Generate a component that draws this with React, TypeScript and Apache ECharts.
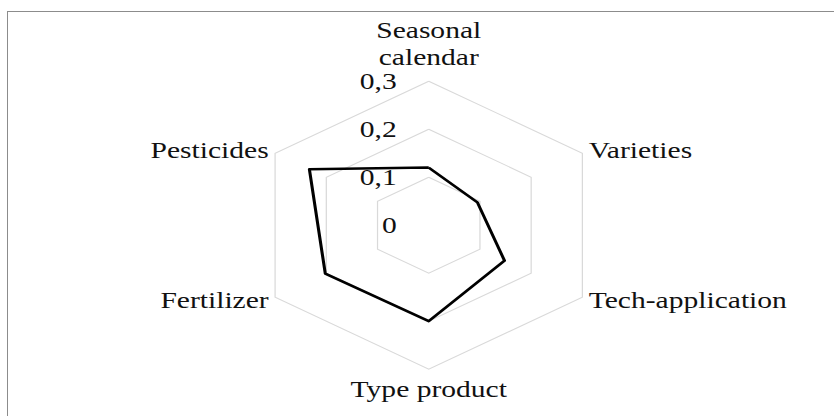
import { useEffect, useRef } from 'react';
import * as echarts from 'echarts';

// Indicators in ECharts drawing order (top, then counter-clockwise)
const categories = ['Seasonal\ncalendar', 'Pesticides', 'Fertilizer', 'Type product', 'Tech-application', 'Varieties'];
const values = [0.12, 0.233, 0.202, 0.2, 0.148, 0.095];
const tickValues = [0, 0.1, 0.2, 0.3];
const tickLabels = ['0', '0,1', '0,2', '0,3'];
const axisMin = 0;
const axisMax = 0.3;

const STRETCH = 1.232;
const FONT = 'Liberation Serif';

export default function App() {
  const ref = useRef<HTMLDivElement>(null);
  useEffect(() => {
    const chart = echarts.init(ref.current!, null, { renderer: 'svg' });
    const fmt = (v: number) => {
      const i = tickValues.findIndex((t) => Math.abs(t - v) < 1e-9);
      return i >= 0 ? tickLabels[i] : String(v).replace('.', ',');
    };
    const nameFmt = (name: string) => {
      if (name.indexOf('\n') < 0) return name;
      const parts = name.split('\n');
      return parts.map((s, i) => `{${i === parts.length - 1 ? 'b' : 'a'}|${s}}`).join('\n');
    };
    const txt = { color: '#111', fontFamily: FONT, fontSize: 24 };
    chart.setOption({
      animation: false,
      radar: {
        center: [348, 225.2],
        radius: 144,
        startAngle: 90,
        splitNumber: tickValues.length - 1,
        shape: 'polygon',
        indicator: categories.map((name, i) => {
          const o: any = { name, min: axisMin, max: axisMax };
          if (i === 0) o.axisLabel = { show: true };
          return o;
        }),
        axisName: {
          ...txt,
          lineHeight: 28,
          formatter: nameFmt,
          rich: {
            a: { ...txt, lineHeight: 40 },
            b: { ...txt, lineHeight: 14 },
          },
        },
        nameGap: 6,
        axisLine: { show: false },
        axisTick: { show: false },
        splitArea: { show: false },
        splitLine: { lineStyle: { color: '#d9d9d9', width: 1 } },
        axisLabel: {
          show: false,
          ...txt,
          margin: 26,
          formatter: fmt,
        },
      },
      series: [
        {
          type: 'radar',
          symbol: 'none',
          lineStyle: { color: '#000', width: 2.5 },
          data: [{ value: values, name: 'Series' }],
        },
      ],
    });
    return () => chart.dispose();
  }, []);

  return (
    <div style={{ position: 'absolute', left: 0, top: 0, width: 834, height: 416, overflow: 'hidden', background: '#fff' }}>
      <div
        style={{
          position: 'absolute',
          left: 7,
          top: 11,
          width: 827,
          height: 405,
          boxSizing: 'border-box',
          borderTop: '1px solid #8c8c8c',
          borderLeft: '1px solid #8c8c8c',
        }}
      />
      <div
        ref={ref}
        style={{
          position: 'absolute',
          left: 0,
          top: 0,
          width: Math.round(834 / STRETCH),
          height: 416,
          transform: `scaleX(${STRETCH})`,
          transformOrigin: '0 0',
        }}
      />
    </div>
  );
}
